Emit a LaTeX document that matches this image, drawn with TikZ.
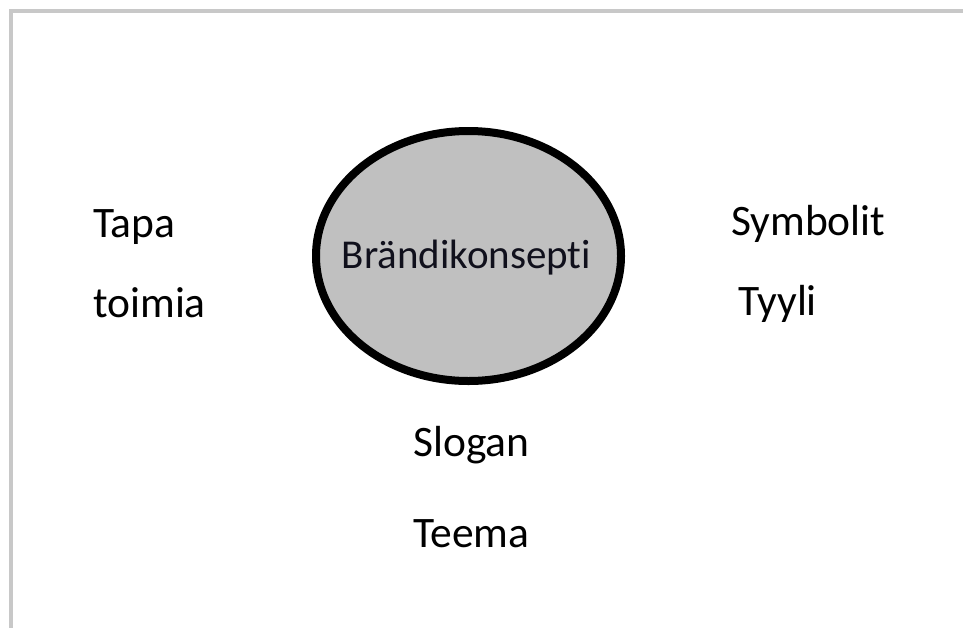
\documentclass[tikz,border=0pt]{standalone}
\usepackage{fontspec}
\setmainfont[Ligatures=NoCommon]{Carlito}
\usetikzlibrary{shapes.geometric}
\begin{document}
\begin{tikzpicture}[x=1pt,y=-1pt,
  lbl/.style={anchor=base west,inner sep=0pt,font=\fontsize{43.5}{50}\selectfont,text=black},
  hub/.style={ellipse,draw=black,line width=8pt,fill=hubgray,inner sep=0pt,
    minimum width=305pt,minimum height=250pt}]
\definecolor{hubgray}{HTML}{C0C0C0}
\definecolor{framegray}{HTML}{C8C8C8}
\definecolor{hubink}{HTML}{10101C}
\useasboundingbox (0,0) rectangle (963,627);
% frame edges (only top and left fall inside the page)
\draw[framegray,line width=4pt] (11,640) -- (11,11) -- (980,11);
% central concept
\node[hub] (hub) at (468.5,256) {};
\node[anchor=base,inner sep=0pt,font=\fontsize{41}{46}\selectfont,text=hubink] (hubtext) at (466.5,268) {Brändikonsepti};
% surrounding terms
\node[lbl] (tapa) at (93,237) {Tapa};
\node[lbl] (toimia) at (93,317) {toimia};
\node[lbl] (symbolit) at (731,235) {Symbolit};
\node[lbl] (tyyli) at (738,315) {Tyyli};
\node[lbl] (slogan) at (413,456) {Slogan};
\node[lbl] (teema) at (413,547) {Teema};
\end{tikzpicture}
\end{document}
